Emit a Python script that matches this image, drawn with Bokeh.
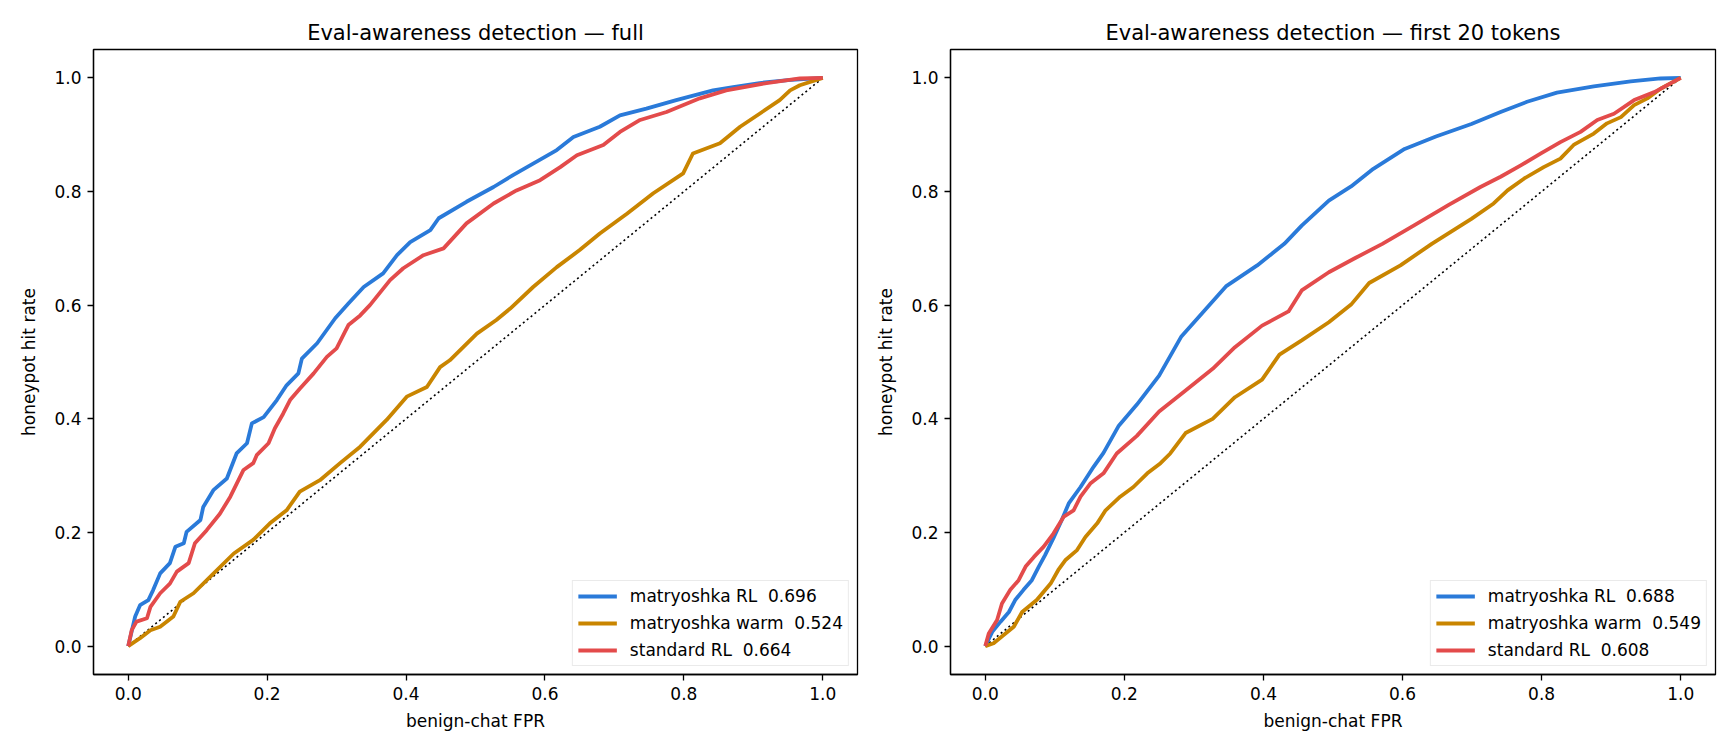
from bokeh.plotting import figure
from bokeh.layouts import row
from bokeh.models import Range1d, FixedTicker, PrintfTickFormatter, Legend, LegendItem
from bokeh.embed import file_html
from bokeh.resources import INLINE

FONT = "DejaVu Sans"

series_names = ["matryoshka RL", "matryoshka warm", "standard RL"]
colors = ["#2a7ad9", "#c98500", "#e34b4b"]
ticks = [0.0, 0.2, 0.4, 0.6, 0.8, 1.0]
chance = [0.0, 1.0]

# ---- panel 1: full ----
full_auc = [0.696, 0.524, 0.664]
full_rl_fpr = [0, 0.010, 0.017, 0.029, 0.036, 0.046, 0.060, 0.068, 0.080, 0.084, 0.104, 0.108, 0.123, 0.142, 0.156, 0.171, 0.178, 0.195, 0.214, 0.228, 0.245, 0.250, 0.272, 0.298, 0.317, 0.339, 0.367, 0.387, 0.406, 0.435, 0.447, 0.487, 0.526, 0.554, 0.583, 0.617, 0.641, 0.679, 0.708, 0.746, 0.789, 0.842, 0.871, 0.909, 0.950, 1.0]
full_rl_tpr = [0, 0.052, 0.072, 0.081, 0.099, 0.128, 0.146, 0.175, 0.181, 0.201, 0.222, 0.245, 0.275, 0.295, 0.339, 0.357, 0.392, 0.403, 0.433, 0.459, 0.480, 0.506, 0.533, 0.577, 0.603, 0.632, 0.656, 0.688, 0.711, 0.732, 0.753, 0.782, 0.808, 0.829, 0.849, 0.873, 0.896, 0.914, 0.934, 0.946, 0.961, 0.978, 0.984, 0.991, 0.996, 1.0]
full_warm_fpr = [0, 0.017, 0.032, 0.046, 0.065, 0.075, 0.094, 0.123, 0.152, 0.180, 0.204, 0.228, 0.247, 0.276, 0.305, 0.334, 0.372, 0.401, 0.430, 0.449, 0.463, 0.502, 0.530, 0.550, 0.583, 0.617, 0.650, 0.679, 0.718, 0.756, 0.799, 0.813, 0.852, 0.881, 0.909, 0.938, 0.953, 0.967, 1.0]
full_warm_tpr = [0, 0.014, 0.028, 0.034, 0.052, 0.078, 0.093, 0.128, 0.163, 0.187, 0.216, 0.239, 0.272, 0.292, 0.322, 0.351, 0.398, 0.439, 0.456, 0.491, 0.503, 0.550, 0.574, 0.594, 0.632, 0.667, 0.697, 0.726, 0.761, 0.797, 0.832, 0.867, 0.885, 0.914, 0.937, 0.961, 0.978, 0.987, 1.0]
full_std_fpr = [0, 0.005, 0.012, 0.027, 0.032, 0.046, 0.060, 0.070, 0.087, 0.096, 0.113, 0.132, 0.147, 0.166, 0.180, 0.185, 0.202, 0.211, 0.223, 0.233, 0.247, 0.267, 0.286, 0.300, 0.312, 0.317, 0.334, 0.348, 0.377, 0.396, 0.425, 0.454, 0.487, 0.526, 0.559, 0.593, 0.622, 0.646, 0.684, 0.708, 0.737, 0.775, 0.823, 0.861, 0.919, 0.967, 1.0]
full_std_tpr = [0, 0.028, 0.043, 0.049, 0.069, 0.093, 0.110, 0.131, 0.146, 0.181, 0.204, 0.233, 0.263, 0.310, 0.322, 0.336, 0.357, 0.383, 0.409, 0.433, 0.453, 0.480, 0.509, 0.524, 0.553, 0.565, 0.582, 0.600, 0.644, 0.665, 0.688, 0.700, 0.744, 0.779, 0.802, 0.820, 0.843, 0.864, 0.882, 0.905, 0.926, 0.940, 0.964, 0.978, 0.991, 0.999, 1.0]

# ---- panel 2: first 20 tokens ----
first_auc = [0.688, 0.549, 0.608]
first_rl_fpr = [0, 0.010, 0.022, 0.034, 0.043, 0.055, 0.067, 0.077, 0.086, 0.098, 0.110, 0.120, 0.137, 0.156, 0.170, 0.192, 0.218, 0.250, 0.282, 0.314, 0.346, 0.391, 0.430, 0.455, 0.494, 0.526, 0.558, 0.603, 0.648, 0.699, 0.741, 0.779, 0.822, 0.875, 0.928, 0.971, 1.0]
first_rl_tpr = [0, 0.025, 0.043, 0.060, 0.081, 0.099, 0.116, 0.140, 0.160, 0.190, 0.222, 0.251, 0.280, 0.316, 0.340, 0.388, 0.425, 0.476, 0.545, 0.589, 0.633, 0.670, 0.708, 0.740, 0.784, 0.809, 0.840, 0.875, 0.897, 0.919, 0.940, 0.958, 0.974, 0.985, 0.994, 0.999, 1.0]
first_warm_fpr = [0, 0.012, 0.026, 0.041, 0.053, 0.074, 0.094, 0.105, 0.115, 0.132, 0.144, 0.161, 0.173, 0.194, 0.213, 0.233, 0.252, 0.266, 0.288, 0.327, 0.359, 0.398, 0.423, 0.455, 0.494, 0.526, 0.552, 0.597, 0.642, 0.699, 0.731, 0.751, 0.775, 0.803, 0.827, 0.846, 0.875, 0.894, 0.914, 0.933, 0.952, 0.971, 1.0]
first_warm_tpr = [0, 0.005, 0.019, 0.034, 0.060, 0.081, 0.110, 0.134, 0.151, 0.169, 0.192, 0.216, 0.239, 0.263, 0.280, 0.304, 0.322, 0.339, 0.375, 0.400, 0.438, 0.469, 0.513, 0.538, 0.570, 0.601, 0.639, 0.670, 0.708, 0.752, 0.779, 0.802, 0.823, 0.843, 0.858, 0.882, 0.902, 0.920, 0.931, 0.952, 0.964, 0.981, 1.0]
first_std_fpr = [0, 0.005, 0.017, 0.024, 0.036, 0.048, 0.058, 0.070, 0.084, 0.098, 0.113, 0.127, 0.137, 0.151, 0.170, 0.189, 0.218, 0.250, 0.288, 0.327, 0.359, 0.398, 0.436, 0.455, 0.494, 0.532, 0.571, 0.616, 0.667, 0.712, 0.741, 0.770, 0.799, 0.827, 0.856, 0.880, 0.904, 0.933, 0.962, 1.0]
first_std_tpr = [0, 0.022, 0.046, 0.075, 0.099, 0.116, 0.140, 0.157, 0.175, 0.198, 0.228, 0.239, 0.263, 0.286, 0.304, 0.339, 0.370, 0.413, 0.450, 0.488, 0.526, 0.564, 0.589, 0.626, 0.658, 0.683, 0.708, 0.740, 0.777, 0.808, 0.826, 0.846, 0.867, 0.887, 0.905, 0.926, 0.937, 0.961, 0.975, 1.0]


def make_panel(title, curves, aucs, border_left, frame_w, width):
    p = figure(width=width, height=740, output_backend="svg", toolbar_location=None,
               x_range=Range1d(-0.05, 1.05), y_range=Range1d(-0.05, 1.05),
               min_border_left=border_left, min_border_right=width - border_left - frame_w,
               min_border_top=49, min_border_bottom=66, title=title)
    p.title.text_font = FONT
    p.title.text_font_size = "21px"
    p.title.text_font_style = "normal"
    p.title.align = "center"
    p.title.text_color = "#000000"
    p.grid.visible = False
    p.outline_line_color = "#000000"
    p.outline_line_width = 1.3
    p.background_fill_color = "white"
    p.border_fill_color = "white"
    for ax in (p.xaxis[0], p.yaxis[0]):
        ax.ticker = FixedTicker(ticks=ticks)
        ax.formatter = PrintfTickFormatter(format="%.1f")
        ax.major_label_text_font = FONT
        ax.major_label_text_font_size = "17px"
        ax.major_label_text_color = "#000000"
        ax.axis_label_text_font = FONT
        ax.axis_label_text_font_size = "17px"
        ax.axis_label_text_font_style = "normal"
        ax.axis_label_text_color = "#000000"
        ax.major_tick_out = 6
        ax.major_tick_in = 0
        ax.minor_tick_out = 0
        ax.minor_tick_in = 0
        ax.major_tick_line_width = 1.3
        ax.major_tick_line_color = "#000000"
        ax.axis_line_color = "#000000"
        ax.axis_line_width = 1.3
        ax.major_label_standoff = 6
    p.xaxis.axis_label = "benign-chat FPR"
    p.yaxis.axis_label = "honeypot hit rate"
    p.xaxis.axis_label_standoff = 8
    p.yaxis.axis_label_standoff = 12

    p.line(chance, chance, line_color="#000000", line_width=1.6, line_dash="2 3")

    items = []
    for (fx, fy), c, name, auc in zip(curves, colors, series_names, aucs):
        r = p.line(fx, fy, line_color=c, line_width=3.8, line_join="round")
        items.append(LegendItem(label=f"{name}  {auc:.3f}", renderers=[r]))
    leg = Legend(items=items, location="bottom_right", margin=8, padding=5,
                 spacing=7, glyph_width=39, glyph_height=20, label_height=20,
                 label_standoff=13, label_text_font=FONT, label_text_font_size="17px",
                 label_text_color="#000000",
                 border_line_color="#d6d6d6", border_line_width=1.3,
                 background_fill_color="white", background_fill_alpha=0.8)
    p.add_layout(leg)
    return p


p1 = make_panel("Eval-awareness detection \u2014 full",
                [(full_rl_fpr, full_rl_tpr), (full_warm_fpr, full_warm_tpr), (full_std_fpr, full_std_tpr)],
                full_auc, 93, 764, 873)
p2 = make_panel("Eval-awareness detection \u2014 first 20 tokens",
                [(first_rl_fpr, first_rl_tpr), (first_warm_fpr, first_warm_tpr), (first_std_fpr, first_std_tpr)],
                first_auc, 77, 765, 855)

layout = row(p1, p2)
open("out.html", "w").write(file_html(layout, INLINE))
